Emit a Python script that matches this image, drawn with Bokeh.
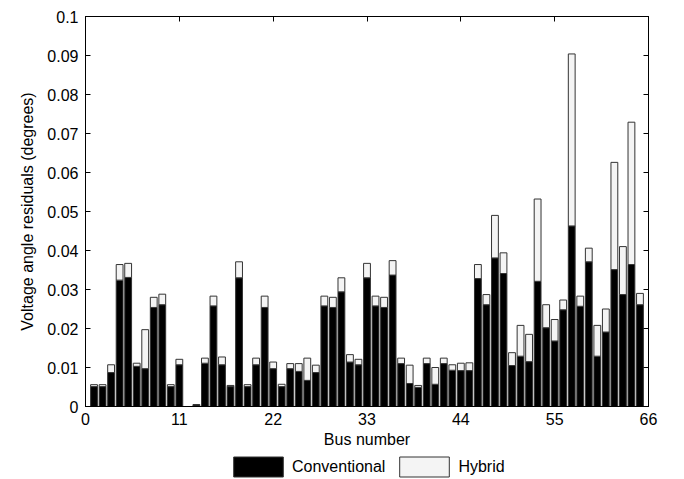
from bokeh.plotting import figure
from bokeh.layouts import column
from bokeh.models import (Range1d, FixedTicker, LinearAxis, Legend, LegendItem,
                          CustomJSTickFormatter, ColumnDataSource)
from bokeh.embed import file_html
from bokeh.resources import INLINE

buses = list(range(1, 66))
conventional = [0.0051, 0.0051, 0.0087, 0.0324, 0.0331, 0.0103, 0.0097, 0.0254, 0.0261, 0.0051,
                0.0107, 0.0, 0.0004, 0.0111, 0.0258, 0.0107, 0.0051, 0.0330, 0.0051, 0.0107,
                0.0254, 0.0097, 0.0051, 0.0097, 0.0090, 0.0067, 0.0087, 0.0258, 0.0254, 0.0294,
                0.0114, 0.0107, 0.0330, 0.0258, 0.0254, 0.0337, 0.0110, 0.0059, 0.0049, 0.0110,
                0.0057, 0.0110, 0.0093, 0.0092, 0.0092, 0.0328, 0.0261, 0.0381, 0.0341, 0.0105,
                0.0129, 0.0115, 0.0321, 0.0202, 0.0168, 0.0248, 0.0463, 0.0257, 0.0371, 0.0129,
                0.0191, 0.0351, 0.0287, 0.0364, 0.0261]
hybrid = [0.0005, 0.0005, 0.0020, 0.0040, 0.0036, 0.0008, 0.0100, 0.0026, 0.0027, 0.0005,
          0.0014, 0.0, 0.0001, 0.0013, 0.0025, 0.0020, 0.0003, 0.0041, 0.0005, 0.0017,
          0.0029, 0.0017, 0.0006, 0.0013, 0.0020, 0.0057, 0.0019, 0.0025, 0.0026, 0.0036,
          0.0019, 0.0014, 0.0037, 0.0025, 0.0026, 0.0037, 0.0014, 0.0047, 0.0005, 0.0014,
          0.0043, 0.0014, 0.0014, 0.0019, 0.0020, 0.0036, 0.0026, 0.0109, 0.0053, 0.0033,
          0.0079, 0.0070, 0.0211, 0.0059, 0.0055, 0.0025, 0.0441, 0.0026, 0.0035, 0.0079,
          0.0059, 0.0275, 0.0123, 0.0365, 0.0029]
series = ["Conventional", "Hybrid"]
x_ticks = [0, 11, 22, 33, 44, 55, 66]
y_ticks = [0, 0.01, 0.02, 0.03, 0.04, 0.05, 0.06, 0.07, 0.08, 0.09, 0.1]

FONT = "Liberation Sans"
FS = "16px"
FILLS = ["black", "#f4f4f4"]
EDGE = "#333333"

src = ColumnDataSource(dict(bus=buses, Conventional=conventional, Hybrid=hybrid))

p = figure(width=684, frame_width=563, frame_height=390, output_backend="svg",
           toolbar_location=None, x_range=Range1d(0, 66), y_range=Range1d(0, 0.1),
           min_border_left=85, min_border_right=36, min_border_top=16, min_border_bottom=48)
p.grid.visible = False
p.outline_line_color = "black"
p.background_fill_color = "white"
p.border_fill_color = "white"

rs = p.vbar_stack(series, x="bus", width=0.8, source=src,
                  fill_color=FILLS, line_color=EDGE, line_width=1)

fmt = CustomJSTickFormatter(code="""
var s = tick.toFixed(2);
if (s.indexOf('.') >= 0) { s = s.replace(/0+$/, '').replace(/\\.$/, ''); }
return s;
""")

def style_axis(ax):
    ax.major_tick_in = 5
    ax.major_tick_out = 0
    ax.minor_tick_line_color = None
    ax.axis_line_color = "black"
    ax.major_tick_line_color = "black"
    ax.major_label_text_font = FONT
    ax.major_label_text_font_size = FS
    ax.major_label_text_color = "black"
    ax.axis_label_text_font = FONT
    ax.axis_label_text_font_size = FS
    ax.axis_label_text_font_style = "normal"
    ax.axis_label_text_color = "black"

xa = p.xaxis[0]
xa.ticker = FixedTicker(ticks=x_ticks)
xa.axis_label = "Bus number"
style_axis(xa)
xa.major_label_standoff = 6
xa.axis_label_standoff = 3

ya = p.yaxis[0]
ya.ticker = FixedTicker(ticks=y_ticks)
ya.formatter = fmt
ya.axis_label = "Voltage angle residuals (degrees)"
style_axis(ya)
ya.major_label_standoff = 7
ya.axis_label_standoff = 8

top = LinearAxis(ticker=FixedTicker(ticks=x_ticks))
style_axis(top)
top.major_label_text_font_size = "0px"
top.major_label_standoff = 0
p.add_layout(top, "above")

right = LinearAxis(ticker=FixedTicker(ticks=y_ticks))
style_axis(right)
right.major_label_text_font_size = "0px"
right.major_label_standoff = 0
p.add_layout(right, "right")

# legend strip underneath the chart (its bars lie outside its visible range)
q = figure(width=684, height=25, output_backend="svg", toolbar_location=None,
           x_range=Range1d(0, 66), y_range=Range1d(5, 6),
           x_axis_location=None, y_axis_location=None, min_border=0)
q.grid.visible = False
q.outline_line_color = None
q.border_fill_color = "white"
qr = q.vbar_stack(series, x="bus", width=0.8, source=src,
                  fill_color=FILLS, line_color=EDGE, line_width=1)
legend = Legend(items=[LegendItem(label=s, renderers=[r]) for s, r in zip(series, qr)],
                orientation="horizontal", location=(142, 0),
                glyph_width=62, glyph_height=25, label_text_font=FONT,
                label_text_font_size=FS, label_text_color="black",
                label_standoff=3, spacing=8, label_height=25,
                border_line_color=None, background_fill_alpha=0,
                padding=0, margin=0)
q.add_layout(legend)

layout = column(p, q, spacing=0)
open("out.html", "w").write(file_html(layout, INLINE))
